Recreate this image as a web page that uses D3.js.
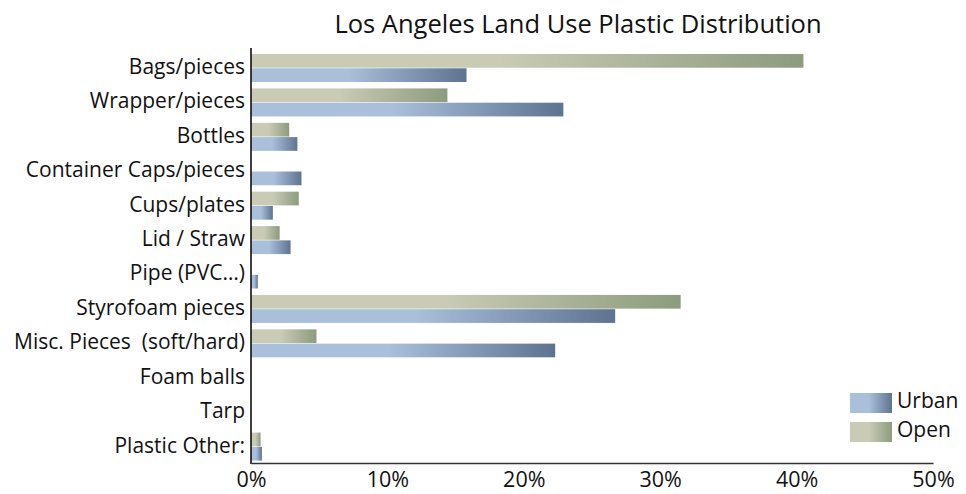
<!DOCTYPE html>
<html><head><meta charset="utf-8">
<script src="https://cdn.jsdelivr.net/npm/d3@7"></script>
<style>body{margin:0;background:#fff}svg{display:block}text{font-family:"Open Sans",sans-serif;fill:#111}</style>
</head><body>
<svg id="chart" width="966" height="494"></svg>
<script>
const categories = ["Bags/pieces","Wrapper/pieces","Bottles","Container Caps/pieces","Cups/plates","Lid / Straw","Pipe (PVC…)","Styrofoam pieces","Misc. Pieces  (soft/hard)","Foam balls","Tarp","Plastic Other:"];
const openValues  = [40.5, 14.4, 2.8, 0, 3.5, 2.1, 0, 31.5, 4.8, 0, 0, 0.7];
const urbanValues = [15.8, 22.9, 3.4, 3.7, 1.6, 2.9, 0.5, 26.7, 22.3, 0, 0, 0.8];
const seriesNames = ["Open","Urban"];
const tickValues = [0, 10, 20, 30, 40, 50];
const title = "Los Angeles Land Use Plastic Distribution";

const svg = d3.select("#chart");
const defs = svg.append("defs");
function grad(id, c0, c1){
  const g = defs.append("linearGradient").attr("id", id).attr("x1","0%").attr("x2","100%").attr("y1","0%").attr("y2","0%");
  g.append("stop").attr("offset","0%").attr("stop-color",c0);
  g.append("stop").attr("offset","45%").attr("stop-color",c0);
  g.append("stop").attr("offset","100%").attr("stop-color",c1);
}
grad("gOpen", "#c9cbb5", "#8c9b7e");
grad("gUrban", "#a9bfda", "#5d7390");

const x = d3.scaleLinear().domain([0, 50]).range([251, 933]);
const y = d3.scaleBand().domain(categories).range([50, 463]).padding(0);
const sub = d3.scaleBand().domain(seriesNames).range([4, 32]).paddingInner(0.04);

const rows = categories.map((c,i)=>({c, Open: openValues[i], Urban: urbanValues[i]}));

const g = svg.append("g");
rows.forEach(r=>{
  seriesNames.forEach(s=>{
    if (r[s] > 0) {
      g.append("rect")
        .attr("x", x(0))
        .attr("y", y(r.c) + sub(s))
        .attr("width", x(r[s]) - x(0))
        .attr("height", sub.bandwidth())
        .attr("fill", s === "Open" ? "url(#gOpen)" : "url(#gUrban)");
    }
  });
});

// y axis
const yAxis = d3.axisLeft(y).tickSize(0).tickPadding(6);
const ya = svg.append("g").attr("transform", `translate(${x(0)},0)`).call(yAxis);
ya.select(".domain").remove();
ya.selectAll("text").style("font-size","21px").style("white-space","pre").attr("fill","#111").style("font-family","'Open Sans', sans-serif");
svg.append("line").attr("x1", x(0)).attr("x2", x(0)).attr("y1", 48).attr("y2", 464).attr("stroke","#111").attr("stroke-width",1.6);

// x axis
const xAxis = d3.axisBottom(x).tickValues(tickValues).tickSize(0).tickPadding(9).tickFormat(d=>d+"%");
const xa = svg.append("g").attr("transform", `translate(0,463)`).call(xAxis);
xa.select(".domain").attr("stroke","#333").attr("stroke-width",1.6);
xa.selectAll("text").style("font-size","21.5px").attr("fill","#111").style("font-family","'Open Sans', sans-serif");

// title
svg.append("text").attr("x", 578).attr("y", 33).attr("text-anchor","middle").style("font-size","25.5px").text(title);

// legend
const legend = [["Urban","url(#gUrban)"],["Open","url(#gOpen)"]];
legend.forEach((d,i)=>{
  const ly = 393 + i*29;
  svg.append("rect").attr("x", 850).attr("y", ly).attr("width", 42).attr("height", 20).attr("fill", d[1]);
  svg.append("text").attr("x", 897).attr("y", ly + 15).style("font-size","21px").text(d[0]);
});
</script>
</body></html>
